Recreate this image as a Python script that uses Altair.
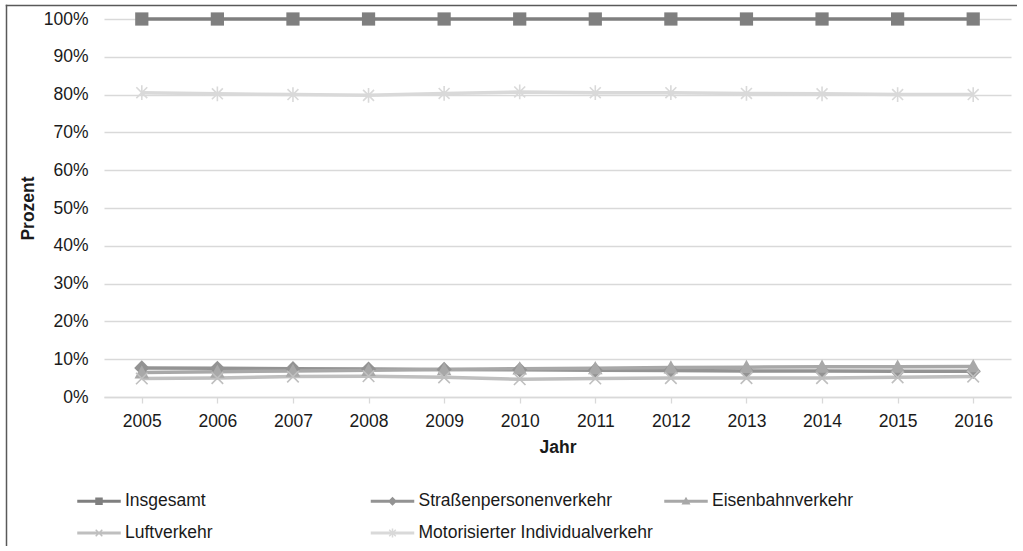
import altair as alt
import pandas as pd

# Anteile an der Personenverkehrsleistung (Prozent)
years = ["2005", "2006", "2007", "2008", "2009", "2010",
         "2011", "2012", "2013", "2014", "2015", "2016"]
series_names = ["Insgesamt", "Straßenpersonenverkehr", "Eisenbahnverkehr",
                "Luftverkehr", "Motorisierter Individualverkehr"]
insgesamt = [100, 100, 100, 100, 100, 100, 100, 100, 100, 100, 100, 100]
strassen = [7.7, 7.6, 7.5, 7.4, 7.3, 7.2, 7.1, 7.0, 6.9, 6.9, 6.8, 6.8]
eisenbahn = [6.5, 6.7, 6.9, 7.1, 7.3, 7.5, 7.6, 7.8, 7.9, 8.0, 8.0, 8.1]
luft = [4.9, 5.0, 5.4, 5.5, 5.2, 4.7, 4.9, 5.0, 5.0, 5.0, 5.2, 5.4]
miv = [80.5, 80.2, 80.0, 79.8, 80.3, 80.7, 80.5, 80.5, 80.3, 80.2, 80.0, 80.0]
y_ticks = [0, 10, 20, 30, 40, 50, 60, 70, 80, 90, 100]

colors = ["#7f7f7f", "#939393", "#a8a8a8", "#bfbfbf", "#d9d9d9"]

# marker shapes on the lines (unit box -1..1)
marker_paths = [
    "M-1,-1H1V1H-1Z",
    "M0,-1.15L1.15,0L0,1.15L-1.15,0Z",
    "M0,-1.1L1.1,0.9L-1.1,0.9Z",
    "M-0.9,-0.9L0.9,0.9M-0.9,0.9L0.9,-0.9",
    "M-0.85,-0.85L0.85,0.85M-0.85,0.85L0.85,-0.85M0,-1.15L0,1.15",
]

# legend symbols: a short line segment with the marker in its middle
seg = "M-1.45,-0.1H1.45V0.1H-1.45Z"
legend_paths = [
    seg + "M-0.25,-0.25H0.25V0.25H-0.25Z",
    seg + "M0,-0.3L0.3,0L0,0.3L-0.3,0Z",
    seg + "M0,-0.3L0.3,0.22L-0.3,0.22Z",
    seg + "M-0.185,-0.255L0.255,0.185L0.185,0.255L-0.255,-0.185Z"
          "M-0.255,0.185L0.185,-0.255L0.255,-0.185L-0.185,0.255Z",
    seg + "M-0.185,-0.255L0.255,0.185L0.185,0.255L-0.255,-0.185Z"
          "M-0.255,0.185L0.185,-0.255L0.255,-0.185L-0.185,0.255Z"
          "M-0.05,-0.3H0.05V0.3H-0.05Z",
]

rows = []
for name, vals in zip(series_names, [insgesamt, strassen, eisenbahn, luft, miv]):
    for yr, v in zip(years, vals):
        rows.append({"Jahr": yr, "Serie": name, "Wert": v})
df = pd.DataFrame(rows)

FONT = "Liberation Sans"
TXT = "#1a1a1a"
FS = 17.5

x_enc = alt.X(
    "Jahr:O",
    scale=alt.Scale(type="point", padding=0.5),
    axis=alt.Axis(
        title="Jahr", labelAngle=0, labelFont=FONT, labelFontSize=FS,
        labelColor=TXT, labelPadding=9, tickSize=6, tickColor="#d9d9d9",
        tickWidth=1.3, domainColor="#d9d9d9", domainWidth=1.5, grid=False,
        labelOverlap=False,
        titleFont=FONT, titleFontSize=FS, titleFontWeight="bold",
        titleColor=TXT, titleBaseline="alphabetic", titleY=55,
    ),
)
y_enc = alt.Y(
    "Wert:Q",
    scale=alt.Scale(domain=[0, 100], nice=False),
    axis=alt.Axis(
        title="Prozent", values=y_ticks, labelExpr="datum.value + '%'",
        labelOverlap=False,
        labelFont=FONT, labelFontSize=FS, labelColor=TXT, labelPadding=16,
        ticks=False, domain=False, gridColor="#d9d9d9", gridWidth=1.4,
        titleFont=FONT, titleFontSize=FS, titleFontWeight="bold",
        titleColor=TXT, titleBaseline="alphabetic", titleX=-71, titleY=189,
        titleAngle=270,
    ),
)

color_scale = alt.Scale(domain=series_names, range=colors)
base = alt.Chart(df)

lines = base.mark_line(strokeWidth=3.5).encode(
    x=x_enc, y=y_enc,
    color=alt.Color("Serie:N", scale=color_scale, legend=None),
)

filled_pts = base.transform_filter(
    alt.FieldOneOfPredicate(field="Serie", oneOf=series_names[:3])
).mark_point(filled=True, size=175, opacity=1, strokeWidth=0).encode(
    x=x_enc, y=y_enc,
    color=alt.Color("Serie:N", scale=color_scale, legend=None),
    shape=alt.Shape("Serie:N", scale=alt.Scale(domain=series_names[:3],
                                               range=marker_paths[:3]),
                    legend=None),
)

open_pts = base.transform_filter(
    alt.FieldOneOfPredicate(field="Serie", oneOf=series_names[3:])
).mark_point(filled=False, size=165, opacity=1, strokeWidth=1.6).encode(
    x=x_enc, y=y_enc,
    color=alt.Color("Serie:N", scale=color_scale, legend=None),
    shape=alt.Shape("Serie:N", scale=alt.Scale(domain=series_names[3:],
                                               range=marker_paths[3:]),
                    legend=None),
)

legend_layer = base.transform_filter("false").mark_point(
    filled=True, opacity=1
).encode(
    x=x_enc, y=y_enc,
    color=alt.Color(
        "Serie:N", scale=color_scale,
        legend=alt.Legend(
            title=None, orient="none", legendX=-20, legendY=467,
            columns=3, direction="horizontal", gridAlign="all",
            columnPadding=10.5, rowPadding=8, symbolSize=900,
            symbolStrokeWidth=0, labelOffset=11, labelFont=FONT,
            labelFontSize=FS, labelColor=TXT, labelLimit=500,
        ),
    ),
    shape=alt.Shape("Serie:N",
                    scale=alt.Scale(domain=series_names, range=legend_paths)),
)

# chart-area border along the left and top edges (kept inside the canvas)
one_row = pd.DataFrame({"r": [0]})
frame_left = alt.Chart(one_row).mark_rule(
    color="#595959", strokeWidth=1.5
).encode(x=alt.value(-97.5), y=alt.value(-14.25), y2=alt.value(527))
frame_top = alt.Chart(one_row).mark_rule(
    color="#595959", strokeWidth=1.5
).encode(x=alt.value(-98.25), x2=alt.value(913), y=alt.value(-13.5))

chart = alt.layer(
    frame_left, frame_top, lines, filled_pts, open_pts, legend_layer
).resolve_scale(
    color="independent", shape="independent"
).properties(
    width=907, height=378,
    autosize=alt.AutoSizeParams(type="none"),
    padding={"left": 104, "top": 19, "right": 12, "bottom": 154},
    background="white",
).configure_view(stroke=None)

chart.save("out.html", embed_options={"renderer": "svg", "actions": False})
